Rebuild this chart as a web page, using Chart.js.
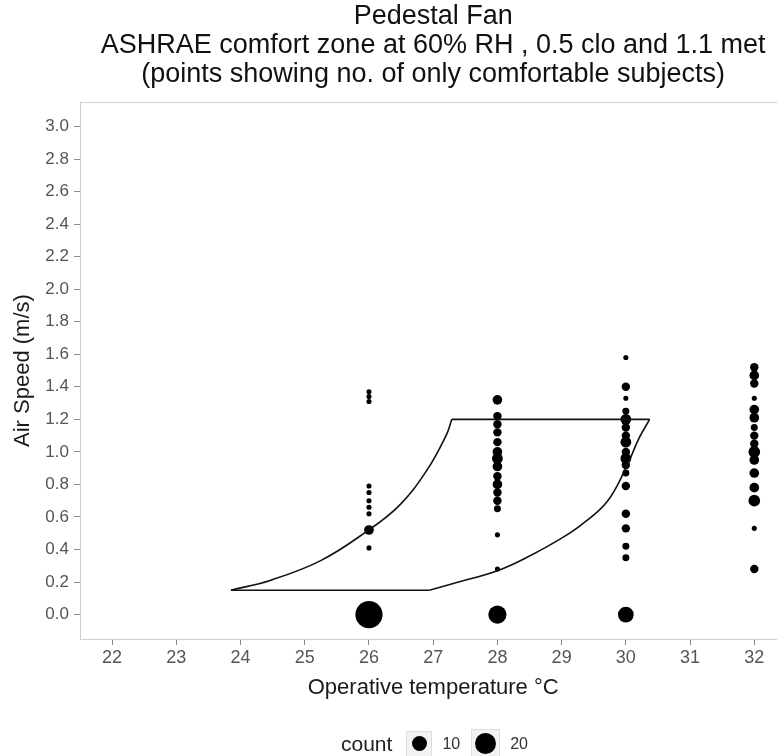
<!DOCTYPE html>
<html>
<head>
<meta charset="utf-8">
<script src="https://cdn.jsdelivr.net/npm/chart.js@4.4.1/dist/chart.umd.min.js"></script>
<style>
  html, body { margin: 0; padding: 0; background: #fff; overflow: hidden; }
  #wrap { position: relative; width: 800px; height: 756px; }
  #legend {
    position: absolute; top: 729px; left: 341px;
    display: flex; align-items: center;
    font-family: "Liberation Sans", Arial, sans-serif; color: #1a1a1a;
  }
  #legend .ttl { font-size: 21px; margin-right: 14px; color: #222; }
  #legend .key {
    background: #f2f2f2; border: 1px solid #dedede;
    display: flex; align-items: center; justify-content: center; box-sizing: border-box;
  }
  #legend .dot { background: #000; border-radius: 50%; }
  #legend .lab { font-size: 16px; margin: 0 11px 0 10px; color: #333; }
</style>
</head>
<body>
<div id="wrap">
  <canvas id="chart" width="800" height="756"></canvas>
  <div id="legend"></div>
</div>
<script>
// x ticks / y ticks
const xTicks = [22, 23, 24, 25, 26, 27, 28, 29, 30, 31, 32];
const yTicks = [0, 0.2, 0.4, 0.6, 0.8, 1.0, 1.2, 1.4, 1.6, 1.8, 2.0, 2.2, 2.4, 2.6, 2.8, 3.0];

// comfortable subjects per temperature: air speed and count
const speeds26 = [1.37, 1.34, 1.31, 0.79, 0.75, 0.70, 0.66, 0.62, 0.52, 0.41, 0.0];
const counts26 = [1, 1, 1, 1, 1, 1, 1, 1, 4, 1, 34];

const speeds28 = [1.32, 1.22, 1.17, 1.12, 1.06, 1.00, 0.96, 0.91, 0.85, 0.80, 0.75, 0.70, 0.65, 0.49, 0.28, 0.0];
const counts28 = [4, 3, 3, 3, 3, 4, 5, 4, 3, 4, 3, 3, 2, 1, 1, 15];

const speeds30 = [1.58, 1.40, 1.33, 1.25, 1.20, 1.15, 1.10, 1.06, 1.00, 0.96, 0.92, 0.87, 0.79, 0.62, 0.53, 0.42, 0.35, 0.0];
const counts30 = [1, 3, 1, 2, 5, 3, 3, 5, 3, 5, 3, 2, 3, 3, 3, 2, 2, 11];

const speeds32 = [1.52, 1.47, 1.42, 1.33, 1.26, 1.21, 1.15, 1.10, 1.05, 1.00, 0.95, 0.87, 0.78, 0.70, 0.53, 0.28];
const counts32 = [3, 4, 3, 1, 4, 4, 2, 3, 3, 6, 4, 4, 4, 6, 1, 3];

// ASHRAE comfort zone: two curved edges plus straight top/bottom edges
const leftEdgeX = [23.85, 24.46, 25.24, 25.96, 26.47, 26.89, 27.2, 27.29];
const leftEdgeY = [0.15, 0.21, 0.33, 0.51, 0.67, 0.88, 1.10, 1.2];
const rightEdgeX = [26.94, 27.3, 28.0, 28.5, 29.0, 29.3, 29.7, 30.0, 30.2, 30.37];
const rightEdgeY = [0.15, 0.19, 0.27, 0.36, 0.47, 0.55, 0.69, 0.90, 1.08, 1.2];
const flatEdgesX = [23.85, 26.94, null, 27.29, 30.37];
const flatEdgesY = [0.15, 0.15, null, 1.2, 1.2];

const legendCounts = [10, 20];

function radiusFor(c) {
    return 0.25 + 2.29 * Math.sqrt(c);
}

function column(temp, speeds, counts) {
    return speeds.map((s, i) => ({x: temp, y: s, c: counts[i]}));
}

function pairs(xs, ys) {
    return xs.map((x, i) => ({x: x, y: ys[i]}));
}

const pointData = [].concat(
    column(26, speeds26, counts26),
    column(28, speeds28, counts28),
    column(30, speeds30, counts30),
    column(32, speeds32, counts32)
);

const font = '"Liberation Sans", Arial, sans-serif';

const panelBorder = {
    id: 'panelBorder',
    beforeDatasetsDraw(chart) {
        const a = chart.chartArea;
        const ctx = chart.ctx;
        ctx.save();
        ctx.strokeStyle = '#cfcfcf';
        ctx.lineWidth = 1;
        ctx.strokeRect(a.left + 0.5, a.top + 0.5, a.right - a.left, a.bottom - a.top);
        ctx.restore();
    }
};

function zoneLine(data, tension) {
    return {
        data: data,
        showLine: true,
        borderColor: '#111',
        borderWidth: 1.6,
        pointRadius: 0,
        tension: tension,
        spanGaps: false,
        fill: false
    };
}

new Chart(document.getElementById('chart'), {
    type: 'scatter',
    data: {
        datasets: [
            zoneLine(pairs(leftEdgeX, leftEdgeY), 0.4),
            zoneLine(pairs(rightEdgeX, rightEdgeY), 0.4),
            zoneLine(pairs(flatEdgesX, flatEdgesY), 0),
            {
                label: 'count',
                data: pointData,
                backgroundColor: '#000',
                borderWidth: 0,
                pointRadius: (ctx) => ctx.raw ? radiusFor(ctx.raw.c) : 0
            }
        ]
    },
    options: {
        responsive: false,
        animation: false,
        layout: { padding: { left: 0, right: 12, top: 0, bottom: 55 } },
        plugins: {
            legend: { display: false },
            tooltip: { enabled: false },
            title: {
                display: true,
                fullSize: false,
                text: ['Pedestal Fan', 'ASHRAE comfort zone at 60% RH , 0.5 clo and 1.1 met', '(points showing no. of only comfortable subjects)'],
                color: '#111',
                font: { family: font, size: 27, weight: 'normal', lineHeight: 1.075 },
                padding: { top: 2, bottom: 13 }
            }
        },
        scales: {
            x: {
                type: 'linear',
                min: 21.5,
                max: 32.5,
                afterBuildTicks: (scale) => { scale.ticks = xTicks.map(v => ({value: v})); },
                afterFit: (scale) => { scale.height = 62; },
                grid: { drawOnChartArea: false, drawTicks: true, tickLength: 6, color: '#8a8a8a' },
                border: { display: true, color: '#8a8a8a', width: 1 },
                ticks: { color: '#555', font: { family: font, size: 18 }, padding: 2, maxRotation: 0 },
                title: {
                    display: true,
                    text: 'Operative temperature °C',
                    color: '#1a1a1a',
                    font: { family: font, size: 22 },
                    padding: { top: 0, bottom: 0 }
                }
            },
            y: {
                type: 'linear',
                min: -0.15,
                max: 3.15,
                afterBuildTicks: (scale) => { scale.ticks = yTicks.map(v => ({value: v})); },
                afterFit: (scale) => { scale.width = 80; },
                grid: { drawOnChartArea: false, drawTicks: true, tickLength: 6, color: '#8a8a8a' },
                border: { display: true, color: '#8a8a8a', width: 1 },
                ticks: {
                    color: '#555',
                    font: { family: font, size: 17 },
                    padding: 5,
                    callback: (v) => Number(v).toFixed(1)
                },
                title: {
                    display: true,
                    text: 'Air Speed (m/s)',
                    color: '#1a1a1a',
                    font: { family: font, size: 22 },
                    padding: { top: 10, bottom: 0 }
                }
            }
        }
    },
    plugins: [panelBorder]
});

// size legend
const legend = document.getElementById('legend');
let html = '<span class="ttl">count</span>';
for (const c of legendCounts) {
    const d = 2 * radiusFor(c);
    const k = Math.max(26, Math.round(d + 8));
    html += '<span class="key" style="width:' + k + 'px;height:' + k + 'px"><span class="dot" style="width:' + d + 'px;height:' + d + 'px"></span></span>';
    html += '<span class="lab">' + c + '</span>';
}
legend.innerHTML = html;
</script>
</body>
</html>
